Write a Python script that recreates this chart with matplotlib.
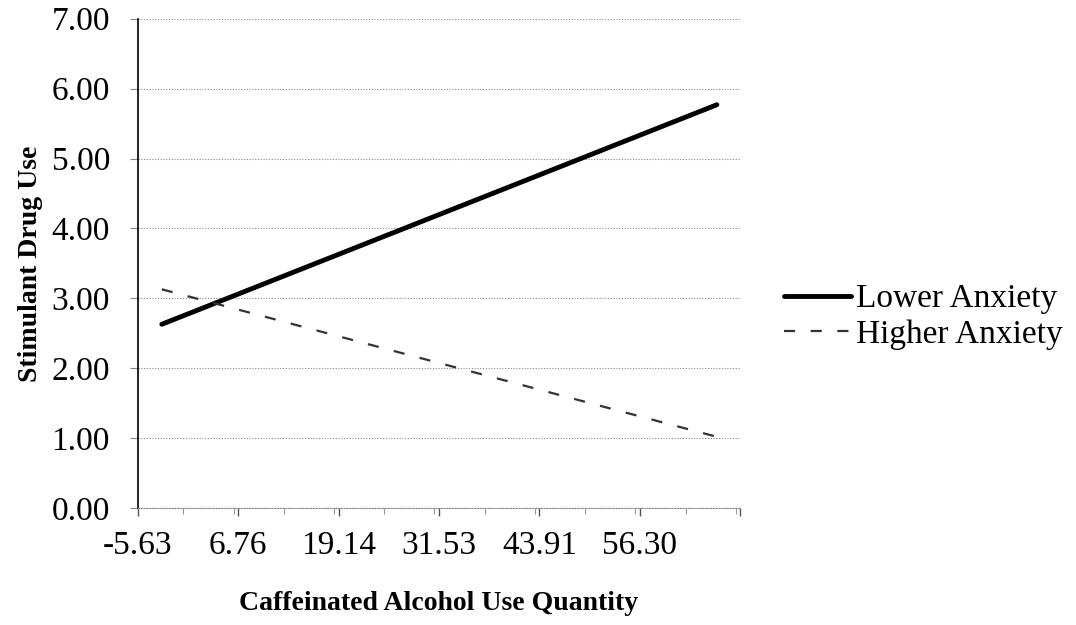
import matplotlib.pyplot as plt
from matplotlib.ticker import FixedLocator, MultipleLocator

# simple slopes
x_vals = [-2.66, 65.8]
lower_anxiety = [2.63, 5.77]
higher_anxiety = [3.13, 1.02]

x_ticks = [-5.63, 6.76, 19.14, 31.53, 43.91, 56.30]
x_tick_labels = ["-5.63", "6.76", "19.14", "31.53", "43.91", "56.30"]
y_ticks = [0, 1, 2, 3, 4, 5, 6, 7]

plt.rcParams['font.family'] = ['Liberation Serif', 'DejaVu Serif']

fig = plt.figure(figsize=(10.76, 6.25), dpi=100)
ax = fig.add_axes([0.128, 0.187, 0.560, 0.783])

ax.plot(x_vals, lower_anxiety, color='black', lw=3.5, solid_capstyle='round',
        label='Lower Anxiety')
ax.plot(x_vals, higher_anxiety, color='#333333', lw=1.6, linestyle=(0, (5, 7)),
        label='Higher Anxiety')

step = (x_ticks[-1] - x_ticks[0]) / 5
ax.set_xlim(x_ticks[0], x_ticks[0] + 6 * step)
ax.set_ylim(0, 7)

ax.xaxis.set_major_locator(FixedLocator(x_ticks + [x_ticks[0] + 6 * step]))
ax.xaxis.set_minor_locator(MultipleLocator(step / 2))
ax.set_xticklabels(x_tick_labels + [""])
ax.set_yticks(y_ticks)
ax.set_yticklabels(["%.2f" % v for v in y_ticks])

ax.yaxis.grid(True, linestyle=(0, (1, 1.5)), color='#888888', lw=0.8)
ax.set_axisbelow(True)

for s in ['top', 'right']:
    ax.spines[s].set_visible(False)
ax.spines['bottom'].set_linestyle((0, (1, 1.5)))
ax.spines['bottom'].set_color('#888888')
ax.spines['left'].set_linewidth(1.2)

ax.tick_params(axis='y', length=6, width=0.8, labelsize=24, pad=14,
               color='#888888')
ax.tick_params(axis='x', which='major', length=6, width=1.0, labelsize=24,
               pad=10, color='#555555')
ax.tick_params(axis='x', which='minor', length=4, width=0.8, color='#999999')

ax.set_ylabel('Stimulant Drug Use', fontsize=20, fontweight='bold', labelpad=6)
ax.set_xlabel('Caffeinated Alcohol Use Quantity', fontsize=20,
              fontweight='bold', labelpad=22)

fig.legend(loc='center left', bbox_to_anchor=(0.729, 0.493), frameon=False,
           fontsize=24, handlelength=2.0, handletextpad=0.15, labelspacing=0.15,
           borderpad=0, borderaxespad=0)

fig.savefig('out.png', dpi=100)
